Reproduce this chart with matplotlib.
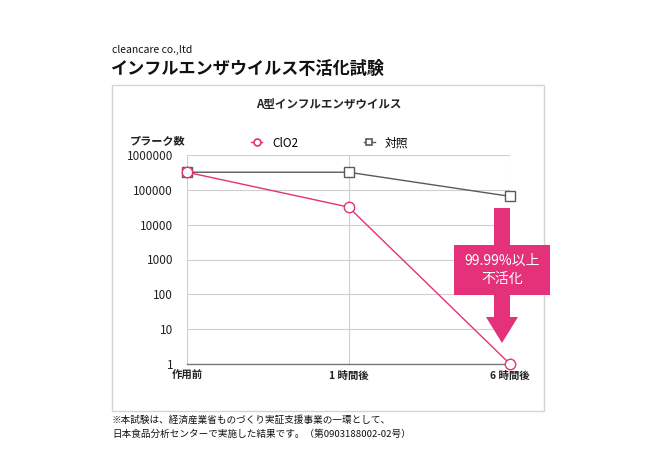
import matplotlib
matplotlib.use("Agg")
import matplotlib.pyplot as plt
from matplotlib.patches import Rectangle, Polygon
from matplotlib.lines import Line2D

plt.rcParams['font.family'] = ['Noto Sans CJK JP', 'DejaVu Sans']

categories = ["作用前", "1 時間後", "6 時間後"]
clo2 = [320000, 32000, 1]
control = [320000, 320000, 65000]
ytick_vals = [1, 10, 100, 1000, 10000, 100000, 1000000]
ytick_labels = ["1", "10", "100", "1000", "10000", "100000", "1000000"]

PINK = "#E5317A"
GRAY = "#5a5a5a"
W, H = 650, 459

fig = plt.figure(figsize=(6.5, 4.59), dpi=100)
fig.patch.set_facecolor("white")

def fx(x):
    return x / W

def fy(y):
    return 1 - y / H

# outer chart box
fig.patches.append(Rectangle((fx(112), fy(411)), fx(544) - fx(112), fy(85) - fy(411),
                             transform=fig.transFigure, fill=False,
                             edgecolor="#d4d4d4", linewidth=1.0))

# header texts
fig.text(fx(112), fy(50), "cleancare co.,ltd", fontsize=7.5, va="center", ha="left", color="#111")
fig.text(fx(111), fy(69), "インフルエンザウイルス不活化試験", fontsize=12.3, fontweight="bold",
         va="center", ha="left", color="#111")

# chart title
fig.text(fx(329), fy(104), "A型インフルエンザウイルス", fontsize=8.3, fontweight="bold",
         va="center", ha="center", color="#222")
fig.text(fx(130), fy(141), "プラーク数", fontsize=8.0, fontweight="bold",
         va="center", ha="left", color="#222")

ax = fig.add_axes([fx(187), fy(364), fx(510) - fx(187), fy(155) - fy(364)])
x = list(range(len(categories)))
ax.set_yscale("log")
ax.set_ylim(1, 1000000)
ax.set_xlim(0, len(categories) - 1)

ax.plot(x, control, color=GRAY, linewidth=1.0, marker="s", markersize=7,
        markerfacecolor="white", markeredgecolor=GRAY, markeredgewidth=1.0, zorder=3, clip_on=False)
ax.plot(x, clo2, color=PINK, linewidth=1.0, marker="o", markersize=7.5,
        markerfacecolor="white", markeredgecolor=PINK, markeredgewidth=1.0, zorder=4, clip_on=False)

ax.set_yticks(ytick_vals)
ax.set_yticklabels(ytick_labels)
ax.yaxis.set_minor_locator(matplotlib.ticker.NullLocator())
ax.set_xticks(x)
ax.set_xticklabels(categories, fontweight="bold")
ax.tick_params(axis="both", length=0, colors="#222")
ax.tick_params(axis="y", pad=10, labelsize=8.5)
ax.tick_params(axis="x", pad=5, labelsize=7.5)
ax.grid(True, color="#cfcfcf", linewidth=0.8)
for s in ["top", "right", "left"]:
    ax.spines[s].set_visible(False)
ax.spines["bottom"].set_color("#777")
ax.spines["bottom"].set_linewidth(1.0)
ax.set_axisbelow(True)

# legend
h1 = Line2D([], [], color=PINK, linewidth=1.0, marker="o", markersize=5,
            markerfacecolor="white", markeredgecolor=PINK, markeredgewidth=1.2)
h2 = Line2D([], [], color=GRAY, linewidth=1.0, marker="s", markersize=5,
            markerfacecolor="white", markeredgecolor=GRAY, markeredgewidth=1.2)
fig.legend([h1, h2], ["ClO2", "対照"], loc="center", bbox_to_anchor=(fx(329.5), fy(143)),
           ncol=2, frameon=False, fontsize=8.5, handlelength=1.0, handletextpad=0.8,
           columnspacing=5.55)

# arrow annotation
pts = [(494, 208), (510, 208), (510, 317), (518, 317), (502, 343), (486, 317), (494, 317)]
fig.patches.append(Polygon([(fx(a), fy(b)) for a, b in pts], closed=True,
                           transform=fig.transFigure, facecolor=PINK, edgecolor="none", zorder=5))
fig.patches.append(Rectangle((fx(454), fy(295)), fx(550) - fx(454), fy(245) - fy(295),
                             transform=fig.transFigure, facecolor=PINK, edgecolor="none", zorder=5))
fig.text(fx(502), fy(270), "99.99%以上\n不活化", color="white", fontsize=10,
         ha="center", va="center", linespacing=1.3, zorder=6)

# footnote
fig.text(fx(112), fy(420), "※本試験は、経済産業省ものづくり実証支援事業の一環として、", fontsize=6.9,
         va="center", ha="left", color="#111")
fig.text(fx(112), fy(434), "日本食品分析センターで実施した結果です。（第0903188002-02号）", fontsize=6.9,
         va="center", ha="left", color="#111")

fig.savefig("out.png", dpi=100)
